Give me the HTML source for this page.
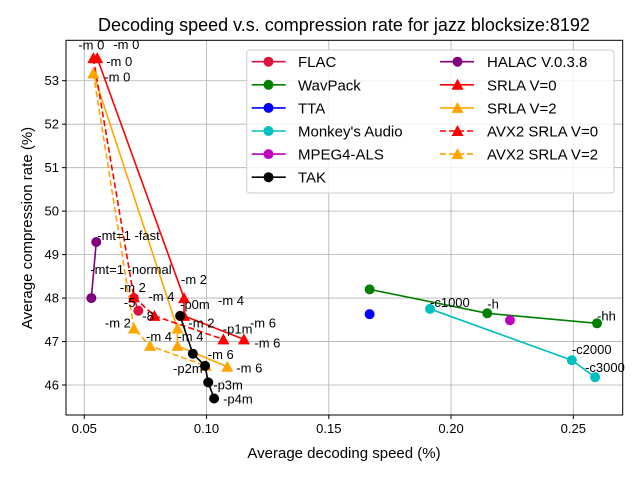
<!DOCTYPE html>
<html><head><meta charset="utf-8"><style>
body{margin:0;background:#fff;}
svg{display:block;font-family:"Liberation Sans","DejaVu Sans",sans-serif;}
</style></head><body>
<svg id="chart" width="640" height="480" viewBox="0 0 640 480" xmlns="http://www.w3.org/2000/svg">
<rect width="640" height="480" fill="#fff"/>
<text x="344" y="31" font-size="18" text-anchor="middle">Decoding speed v.s. compression rate for jazz blocksize:8192</text>
<g id="grid"></g>
<g id="series"></g>
<g id="labels"></g>
<rect x="66" y="40.3" width="556.7" height="374.7" fill="none" stroke="#000" stroke-width="1"/>
<g id="ticks"></g>
<text x="344" y="458" font-size="15" text-anchor="middle">Average decoding speed (%)</text>
<text transform="translate(32,228) rotate(-90)" font-size="15" text-anchor="middle">Average compression rate (%)</text>
<g id="legend"></g>
</svg>
<script>
const xTicks=[0.05,0.10,0.15,0.20,0.25];
const xTickLabels=["0.05","0.10","0.15","0.20","0.25"];
const yTicks=[46,47,48,49,50,51,52,53];
const yTickLabels=["46","47","48","49","50","51","52","53"];
const flacX=[0.0703,0.0721], flacY=[48.0,47.71], flacL=["-5","-8"];
const wavX=[0.1667,0.2148,0.2597], wavY=[48.20,47.65,47.42], wavL=["","-h","-hh"];
const ttaX=[0.1667], ttaY=[47.63], ttaL=[""];
const macX=[0.1914,0.2494,0.2589], macY=[47.75,46.57,46.18], macL=["-c1000","-c2000","-c3000"];
const alsX=[0.2241], alsY=[47.49], alsL=[""];
const takX=[0.0892,0.0944,0.0994,0.1007,0.1031], takY=[47.59,46.72,46.44,46.06,45.69], takL=["-p0m","-p1m","-p2m","-p3m","-p4m"];
const halX=[0.0549,0.0529], halY=[49.29,48.0], halL=["-mt=1 -fast","-mt=1 -normal"];
const s0X=[0.0553,0.0908,0.0908,0.1153], s0Y=[53.52,48.0,47.59,47.05], s0L=["-m 0","-m 2","-m 4","-m 6"];
const s2X=[0.0537,0.0881,0.0881,0.1085], s2Y=[53.17,47.30,46.90,46.42], s2L=["-m 0","-m 2","-m 4","-m 6"];
const a0X=[0.0537,0.0703,0.0787,0.1069], a0Y=[53.52,48.02,47.59,47.05], a0L=["-m 0","-m 2","-m 4","-m 6"];
const a2X=[0.0537,0.0703,0.0769,0.0997], a2Y=[53.17,47.30,46.90,46.44], a2L=["-m 0","-m 2","-m 4","-m 6"];

const X0=66,X1=622.7,Y0=40.3,Y1=415;
const xmin=0.04253,xmax=0.2702,ymin=45.31,ymax=53.93;
const sx=v=>X0+(v-xmin)/(xmax-xmin)*(X1-X0);
const sy=v=>Y1-(v-ymin)/(ymax-ymin)*(Y1-Y0);
const NS="http://www.w3.org/2000/svg";
function mk(tag,attrs,parent){const e=document.createElementNS(NS,tag);for(const k in attrs)e.setAttribute(k,attrs[k]);parent.appendChild(e);return e;}
const grid=document.getElementById('grid'),ticks=document.getElementById('ticks');
xTicks.forEach((t,i)=>{
  const g=mk('line',{x1:sx(t),x2:sx(t),y1:Y0,y2:Y1,stroke:'#b0b0b0','stroke-width':0.8},grid);
  
  
  const tk=mk('line',{x1:sx(t),x2:sx(t),y1:Y1,y2:Y1+4,stroke:'#000'},ticks);
  
  
  const tl=mk('text',{x:sx(t),y:Y1+18,'font-size':13,'text-anchor':'middle'},ticks);
  tl.textContent=xTickLabels[i];
  
  
});
yTicks.forEach((t,i)=>{
  const g=mk('line',{x1:X0,x2:X1,y1:sy(t),y2:sy(t),stroke:'#b0b0b0','stroke-width':0.8},grid);
  
  
  const tk=mk('line',{x1:X0-4,x2:X0,y1:sy(t),y2:sy(t),stroke:'#000'},ticks);
  
  
  const tl=mk('text',{x:X0-7,y:sy(t)+4.5,'font-size':13,'text-anchor':'end'},ticks);
  tl.textContent=yTickLabels[i];
  
  
});
const seriesDefs=[
 {name:'flac',x:flacX,y:flacY,l:flacL,c:'#dc143c',m:'o',d:'',off:[[-10,5],[4,6]]},
 {name:'wavpack',x:wavX,y:wavY,l:wavL,c:'#008000',m:'o',d:'',off:[[0,-9],[0,-9],[0,-7]]},
 {name:'tta',x:ttaX,y:ttaY,l:ttaL,c:'#0000ff',m:'o',d:'',off:[[0,0]]},
 {name:'monkeys-audio',x:macX,y:macY,l:macL,c:'#00bfbf',m:'o',d:'',off:[[0,-6],[0,-10],[-10,-9]]},
 {name:'mpeg4-als',x:alsX,y:alsY,l:alsL,c:'#bf00bf',m:'o',d:'',off:[[0,0]]},
 {name:'halac',x:halX,y:halY,l:halL,c:'#800080',m:'o',d:'',off:[[1,-6],[-1,-28]]},
 {name:'srla-v0',x:s0X,y:s0Y,l:s0L,c:'#ff0000',m:'^',d:'',off:[[9,4],[-3,-18],[34,-15],[6,-16]]},
 {name:'srla-v2',x:s2X,y:s2Y,l:s2L,c:'#ffa500',m:'^',d:'',off:[[11,4],[11,-5],[0,-9],[9,2]]},
 {name:'avx2-srla-v0',x:a0X,y:a0Y,l:a0L,c:'#ff0000',m:'^',d:'6,3',off:[[20,-13],[-14,-9],[-6,-19],[31,4]]},
 {name:'avx2-srla-v2',x:a2X,y:a2Y,l:a2L,c:'#ffa500',m:'^',d:'6,3',off:[[-15,-28],[-29,-5],[-4,-9],[2,-11]]},
 {name:'tak',x:takX,y:takY,l:takL,c:'#000000',m:'o',d:'',off:[[0,-11],[30,-24],[-32,3],[5,3],[9,1]]}
];
function marker(m,cx,cy,c,parent){
  if(m==='o') return mk('circle',{cx:cx,cy:cy,r:5,fill:c},parent);
  return mk('polygon',{points:`${cx},${cy-6} ${cx-6},${cy+5} ${cx+6},${cy+5}`,fill:c},parent);
}
const sg=document.getElementById('series'),lg=document.getElementById('labels');
seriesDefs.forEach(s=>{
  const g=mk('g',{},sg);
  
  
  if(s.x.length>1){
    const pts=s.x.map((v,i)=>sx(v)+','+sy(s.y[i])).join(' ');
    const pl=mk('polyline',{points:pts,fill:'none',stroke:s.c,'stroke-width':1.6,'stroke-dasharray':s.d||'none'},g);
    
    
  }
  s.x.forEach((v,i)=>{
    const p=marker(s.m,sx(v),sy(s.y[i]),s.c,g);
    
    
    if(s.l[i]){
      const o=s.off[i]||[0,0];
      const t=mk('text',{x:sx(v)+o[0],y:sy(s.y[i])+o[1]+4,'font-size':13},lg);
      t.textContent=s.l[i];
      
      
    }
  });
});
// legend
const leg=document.getElementById('legend');
const lb=mk('rect',{x:246.7,y:50,width:367.3,height:143,rx:3,fill:'#fff','fill-opacity':0.8,stroke:'#cccccc'},leg);


const legendNames=["FLAC","WavPack","TTA","Monkey's Audio","MPEG4-ALS","TAK","HALAC V.0.3.8","SRLA V=0","SRLA V=2","AVX2 SRLA V=0","AVX2 SRLA V=2"];
const legendOrder=[0,1,2,3,4,10,5,6,7,8,9];
legendNames.forEach((n,i)=>{
  const s=seriesDefs[legendOrder[i]];
  const col=i<6?0:1,row=i<6?i:i-6;
  const lx=col?440:251.7,mx=col?457.5:268.5,tx=col?487:298,y=61.7+row*23.1;
  const g=mk('g',{},leg);
  
  
  mk('line',{x1:lx,x2:lx+34,y1:y,y2:y,stroke:s.c,'stroke-width':1.6,'stroke-dasharray':s.d||'none'},g);
  marker(s.m,mx,y,s.c,g);
  const t=mk('text',{x:tx,y:y+5.5,'font-size':15},g);
  t.textContent=n;
});
</script>
</body></html>
